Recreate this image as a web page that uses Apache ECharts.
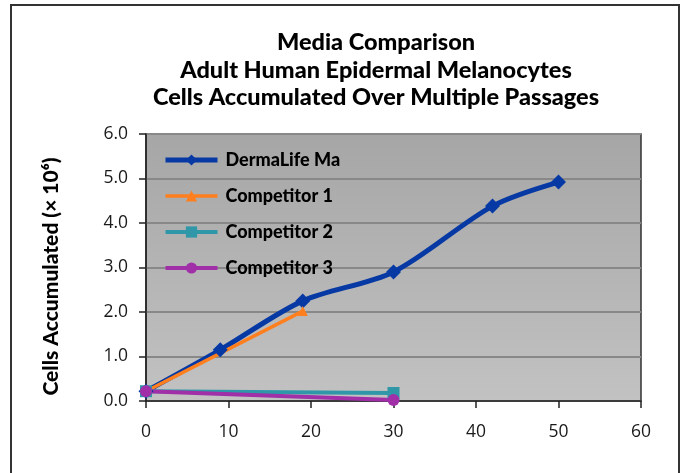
<!DOCTYPE html>
<html>
<head>
<meta charset="utf-8">
<script src="https://cdn.jsdelivr.net/npm/echarts@6/dist/echarts.min.js"></script>
<style>
html,body{margin:0;padding:0;background:#fff;}
#chart{width:681px;height:473px;}
</style>
</head>
<body>
<div id="chart"></div>
<script>
const titleLines = ['Media Comparison', 'Adult Human Epidermal Melanocytes', 'Cells Accumulated Over Multiple Passages'];
const yAxisName = 'Cells Accumulated (\u00d7 10\u2076)';
const seriesNames = ['DermaLife Ma', 'Competitor 1', 'Competitor 2', 'Competitor 3'];
const dermaX = [0, 9, 19, 30, 42, 50];
const dermaY = [0.22, 1.15, 2.25, 2.9, 4.38, 4.92];
const comp1X = [0, 19];
const comp1Y = [0.22, 2.02];
const comp2X = [0, 30];
const comp2Y = [0.22, 0.18];
const comp3X = [0, 30];
const comp3Y = [0.22, 0.02];
const xTicks = [0, 10, 20, 30, 40, 50, 60];
const yTicks = [0, 1, 2, 3, 4, 5, 6];

const pair = (xs, ys) => xs.map((x, i) => [x, ys[i]]);
const chart = echarts.init(document.getElementById('chart'));
const labelFont = 'Lato';
const lineWidths = [5, 3.5, 4, 4];
chart.setOption({
  animation: false,
  backgroundColor: '#fff',
  title: {
    text: titleLines.join('\n'),
    left: 371,
    textAlign: 'center',
    top: 24,
    textStyle: { fontFamily: labelFont, fontWeight: 900, fontSize: 23.5, lineHeight: 27.5, color: '#000' }
  },
  graphic: [{
    type: 'rect', shape: { x: 11, y: 5, width: 668, height: 480 },
    style: { fill: 'none', stroke: '#333', lineWidth: 2 }, silent: true
  }],
  legend: {
    orient: 'vertical', left: 158, top: 146,
    itemWidth: 52, itemHeight: 14, itemGap: 18,
    data: seriesNames.map((n, i) => ({ name: n, lineStyle: { width: lineWidths[i] } })),
    textStyle: { fontFamily: labelFont, fontWeight: 900, fontSize: 18, color: '#000', padding: [0, 0, 0, 3] }
  },
  grid: {
    left: 146, right: 40, top: 134, bottom: 72, show: true,
    borderColor: '#333', borderWidth: 1.5,
    backgroundColor: new echarts.graphic.LinearGradient(0, 0, 0, 1, [
      { offset: 0, color: '#a6a6a6' }, { offset: 1, color: '#c2c2c2' }
    ])
  },
  xAxis: {
    type: 'value', min: xTicks[0], max: xTicks[xTicks.length - 1], interval: 10,
    axisLine: { show: true, lineStyle: { color: '#222', width: 1.5 } },
    axisTick: { show: true, length: 7, lineStyle: { color: '#222', width: 1.5 } },
    splitLine: { show: false },
    axisLabel: { fontFamily: 'Open Sans', fontSize: 17.5, color: '#1a1a1a', margin: 22 }
  },
  yAxis: {
    type: 'value', min: yTicks[0], max: yTicks[yTicks.length - 1], interval: 1,
    name: yAxisName, nameLocation: 'middle', nameGap: 84, nameRotate: 90,
    nameTextStyle: { fontFamily: labelFont, fontWeight: 900, fontSize: 21, color: '#000', padding: [0, 18, 0, 0] },
    axisLine: { show: true, lineStyle: { color: '#222', width: 1.5 } },
    axisTick: { show: true, length: 7, lineStyle: { color: '#222', width: 1.5 } },
    splitLine: { show: true, lineStyle: { color: '#888', width: 2 } },
    axisLabel: { fontFamily: 'Open Sans', fontSize: 17.5, color: '#1a1a1a', margin: 18, formatter: v => v.toFixed(1) }
  },
  series: [
    { name: seriesNames[0], type: 'line', data: pair(dermaX, dermaY), smooth: 0.3,
      symbol: 'diamond', symbolSize: 15, color: '#0639a4', lineStyle: { width: lineWidths[0] } },
    { name: seriesNames[1], type: 'line', data: pair(comp1X, comp1Y),
      symbol: 'triangle', symbolSize: 10, color: '#ff7f1e', lineStyle: { width: lineWidths[1] } },
    { name: seriesNames[2], type: 'line', data: pair(comp2X, comp2Y),
      symbol: 'rect', symbolSize: 12, color: '#2f97a8', lineStyle: { width: lineWidths[2] } },
    { name: seriesNames[3], type: 'line', data: pair(comp3X, comp3Y),
      symbol: 'circle', symbolSize: 12, color: '#a02fa8', lineStyle: { width: lineWidths[3] } }
  ]
});
</script>
</body>
</html>
